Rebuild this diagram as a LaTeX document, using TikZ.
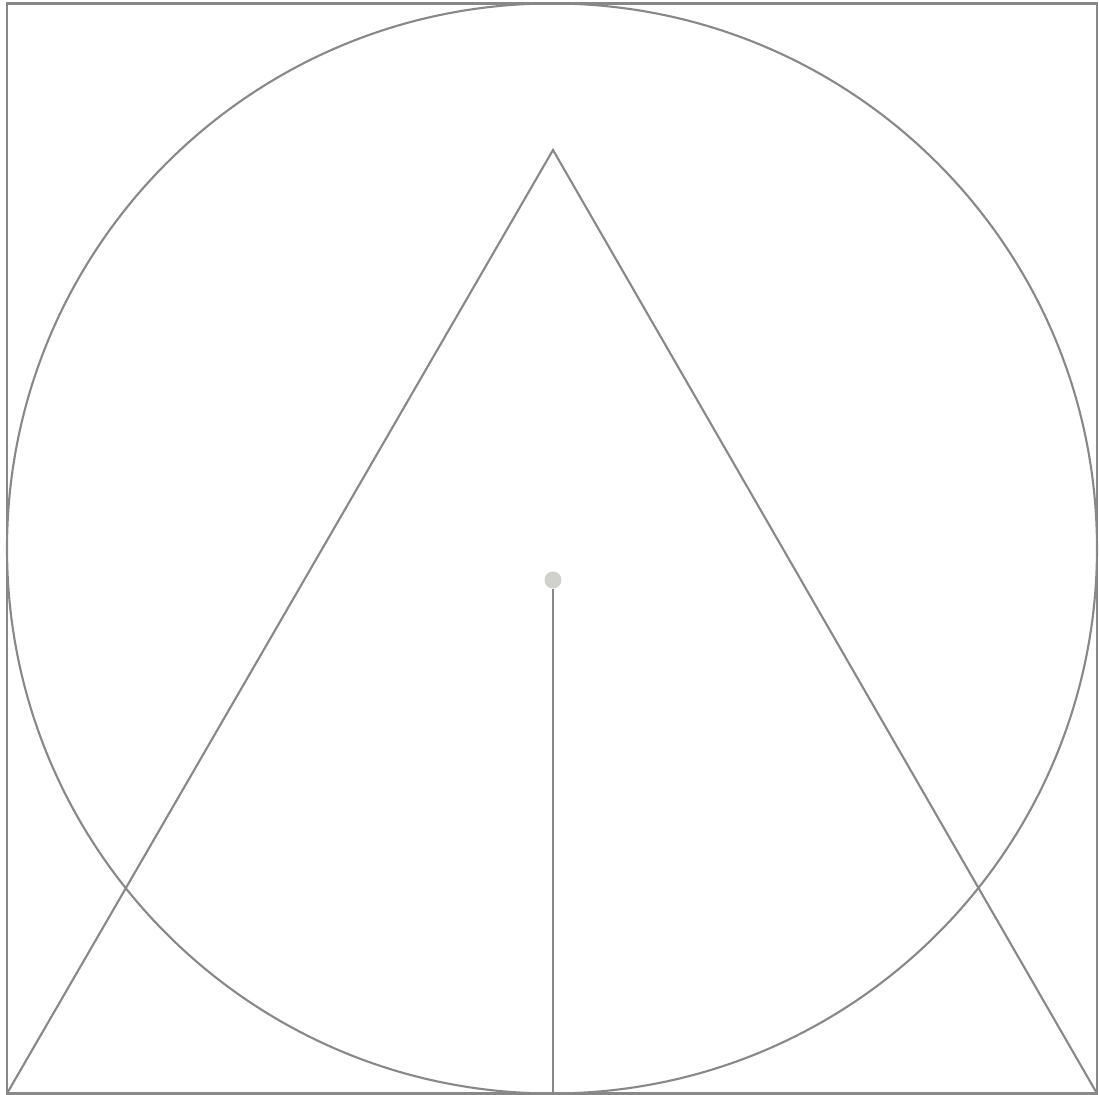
\documentclass[tikz,border=0pt]{standalone}
\usepackage{tikz}
\definecolor{edgegray}{HTML}{888888}
\definecolor{dotgray}{HTML}{D0D0CD}

\begin{document}
\begin{tikzpicture}[
    x=0.01cm, y=-0.01cm,
    geo/.style={draw=edgegray, line width=0.6pt},
    dot/.style={circle, fill=dotgray, inner sep=0pt, minimum size=0.17cm}
]
\useasboundingbox (0,0) rectangle (1099,1095);

% --- Frame and circle ---
\coordinate (tl) at (7,3.5);
\coordinate (br) at (1097,1093.5);
\coordinate (bl) at (7,1093.5);
\coordinate (mid) at (553,1093.5);
\draw[geo] (tl) rectangle (br);
\draw[geo] (552,548.5) circle[radius=545];

% --- Triangle ---
\coordinate (apex) at (553,150);
\draw[geo, line join=miter] (bl) -- (apex) -- (br);

% --- Centre point and stem ---
\node[dot] (ctr) at (553,580) {};
\draw[geo] (ctr) -- (mid);
\end{tikzpicture}
\end{document}
